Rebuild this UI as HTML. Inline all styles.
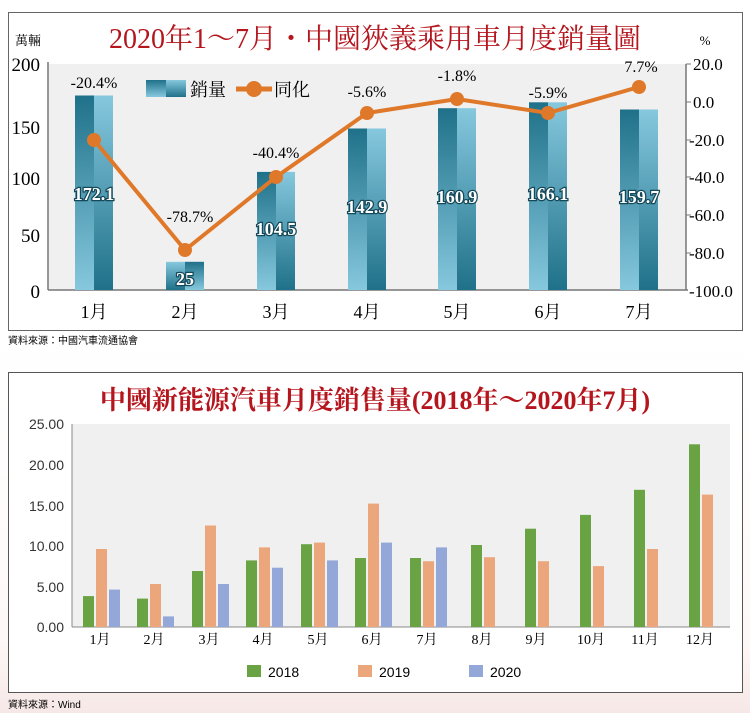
<!DOCTYPE html>
<html><head><meta charset="utf-8"><style>
body{margin:0;background:#fff;}
svg text{font-family:"Liberation Serif","Noto Serif CJK SC",serif;}
.s{font-family:"Liberation Sans","Noto Sans CJK TC",sans-serif !important;}
.v{paint-order:stroke;}
</style></head><body>
<svg width="750" height="713" viewBox="0 0 750 713" xmlns="http://www.w3.org/2000/svg">
<defs>
<linearGradient id="gA" x1="0" y1="0" x2="0" y2="1"><stop offset="0" stop-color="#1f7189"/><stop offset="1" stop-color="#86c8de"/></linearGradient>
<linearGradient id="gB" x1="0" y1="0" x2="0" y2="1"><stop offset="0" stop-color="#86c8de"/><stop offset="1" stop-color="#1f7189"/></linearGradient>
<linearGradient id="bg" x1="0" y1="0" x2="0" y2="1"><stop offset="0" stop-color="#ffffff"/><stop offset="0.8" stop-color="#fdf8f7"/><stop offset="1" stop-color="#f6e8e6"/></linearGradient>
</defs>
<rect x="0" y="340" width="750" height="373" fill="url(#bg)"/>
<!-- Top chart -->
<rect x="8.5" y="12.5" width="734" height="318" fill="#fff" stroke="#666"/>
<rect x="48" y="64" width="638" height="226" fill="#f0f0f0"/>
<text x="375" y="48" text-anchor="middle" font-size="28" fill="#b5161e">2020年1～7月・中國狹義乘用車月度銷量圖</text>
<text x="28" y="45" text-anchor="middle" font-size="13">萬輛</text>
<text x="705" y="45" text-anchor="middle" font-size="13">%</text>
<line x1="48" y1="62" x2="48" y2="290" stroke="#777" stroke-width="1.5"/>
<line x1="48" y1="290" x2="688" y2="290" stroke="#777" stroke-width="1.5"/>
<line x1="686" y1="64" x2="686" y2="290" stroke="#777" stroke-width="1.5"/>
<g font-size="19" text-anchor="end">
<text x="40" y="71">200</text><text x="40" y="134">150</text><text x="40" y="185">100</text><text x="40" y="242">50</text><text x="40" y="298">0</text>
</g>
<g font-size="17" text-anchor="start">
<text x="693" y="70">20.0</text><text x="693" y="108">0.0</text><text x="689" y="146">-20.0</text><text x="689" y="183">-40.0</text><text x="689" y="221">-60.0</text><text x="689" y="259">-80.0</text><text x="689" y="297">-100.0</text>
</g>
<g stroke="#777"><line x1="686" y1="64" x2="691" y2="64"/><line x1="686" y1="102" x2="691" y2="102"/><line x1="686" y1="140" x2="691" y2="140"/><line x1="686" y1="177" x2="691" y2="177"/><line x1="686" y1="215" x2="691" y2="215"/><line x1="686" y1="253" x2="691" y2="253"/></g>
<g>
<rect x="75" y="95.5" width="19" height="194.5" fill="url(#gA)"/><rect x="94" y="95.5" width="19" height="194.5" fill="url(#gB)"/>
<rect x="166" y="261.8" width="19" height="28.2" fill="url(#gB)"/><rect x="185" y="261.8" width="19" height="28.2" fill="url(#gA)"/>
<rect x="257" y="171.9" width="19" height="118.1" fill="url(#gA)"/><rect x="276" y="171.9" width="19" height="118.1" fill="url(#gB)"/>
<rect x="348" y="128.5" width="19" height="161.5" fill="url(#gA)"/><rect x="367" y="128.5" width="19" height="161.5" fill="url(#gB)"/>
<rect x="438" y="108.2" width="19" height="181.8" fill="url(#gA)"/><rect x="457" y="108.2" width="19" height="181.8" fill="url(#gB)"/>
<rect x="529" y="102.3" width="19" height="187.7" fill="url(#gA)"/><rect x="548" y="102.3" width="19" height="187.7" fill="url(#gB)"/>
<rect x="620" y="109.5" width="19" height="180.5" fill="url(#gA)"/><rect x="639" y="109.5" width="19" height="180.5" fill="url(#gB)"/>
</g>
<g font-size="18" font-weight="bold" fill="#fff" text-anchor="middle" stroke="#15495a" stroke-width="2.5" class="v">
<text class="v" x="94" y="200">172.1</text><text class="v" x="185" y="285">25</text><text class="v" x="276" y="235">104.5</text><text class="v" x="367" y="213">142.9</text><text class="v" x="457" y="203">160.9</text><text class="v" x="548" y="200">166.1</text><text class="v" x="639" y="203">159.7</text>
</g>
<rect x="146" y="80" width="20" height="17" fill="url(#gA)"/><rect x="166" y="80" width="20" height="17" fill="url(#gB)"/>
<text x="190" y="96" font-size="18">銷量</text>
<line x1="236" y1="89" x2="272" y2="89" stroke="#e0782a" stroke-width="5"/><circle cx="254" cy="89" r="8" fill="#e0782a"/>
<text x="274" y="96" font-size="18">同化</text>
<polyline points="94,140 185,250 276,177 367,113 457,99 548,113 639,87" fill="none" stroke="#e0782a" stroke-width="4"/>
<g fill="#e0782a"><circle cx="94" cy="140" r="7"/><circle cx="185" cy="250" r="7"/><circle cx="276" cy="177" r="7"/><circle cx="367" cy="113" r="7"/><circle cx="457" cy="99" r="7"/><circle cx="548" cy="113" r="7"/><circle cx="639" cy="87" r="7"/></g>
<g font-size="16" text-anchor="middle">
<text x="94" y="88">-20.4%</text><text x="190" y="222">-78.7%</text><text x="276" y="158">-40.4%</text><text x="367" y="97">-5.6%</text><text x="457" y="81">-1.8%</text><text x="548" y="98">-5.9%</text><text x="641" y="72">7.7%</text>
</g>
<g font-size="18" text-anchor="middle">
<text x="94" y="318">1月</text><text x="185" y="318">2月</text><text x="276" y="318">3月</text><text x="367" y="318">4月</text><text x="457" y="318">5月</text><text x="548" y="318">6月</text><text x="639" y="318">7月</text>
</g>
<text x="8" y="344" font-size="10" class="s">資料來源：中國汽車流通協會</text>
<!-- Bottom chart -->
<rect x="8.5" y="372.5" width="734" height="320" fill="#fff" stroke="#555"/>
<rect x="72" y="424" width="658" height="203" fill="#f0f0f0"/>
<text x="375" y="409" text-anchor="middle" font-size="26" font-weight="bold" fill="#b5161e">中國新能源汽車月度銷售量(2018年～2020年7月)</text>
<line x1="72" y1="424" x2="72" y2="627" stroke="#888"/>
<line x1="72" y1="627" x2="730" y2="627" stroke="#888"/>
<g font-size="14" text-anchor="end" fill="#333">
<text x="64" y="429" class="s">25.00</text><text x="64" y="470" class="s">20.00</text><text x="64" y="511" class="s">15.00</text><text x="64" y="551" class="s">10.00</text><text x="64" y="592" class="s">5.00</text><text x="64" y="632" class="s">0.00</text>
</g>
<g font-size="14" text-anchor="middle">
<text x="100" y="644">1月</text><text x="154" y="644">2月</text><text x="209" y="644">3月</text><text x="263" y="644">4月</text><text x="318" y="644">5月</text><text x="372" y="644">6月</text><text x="427" y="644">7月</text><text x="482" y="644">8月</text><text x="536" y="644">9月</text><text x="591" y="644">10月</text><text x="645" y="644">11月</text><text x="700" y="644">12月</text>
</g>
<rect x="247" y="665" width="14" height="12" fill="#6aa343"/><text x="268" y="677" font-size="14" class="s">2018</text>
<rect x="358" y="665" width="14" height="12" fill="#eba77b"/><text x="379" y="677" font-size="14" class="s">2019</text>
<rect x="469" y="665" width="14" height="12" fill="#93a8d8"/><text x="490" y="677" font-size="14" class="s">2020</text>
<text x="8" y="708" font-size="10" class="s">資料來源：Wind</text>
<g>
<rect x="83" y="596.1" width="11" height="30.9" fill="#6aa343"/><rect x="96" y="549.0" width="11" height="78.0" fill="#eba77b"/><rect x="109" y="589.6" width="11" height="37.4" fill="#93a8d8"/>
<rect x="137" y="598.6" width="11" height="28.4" fill="#6aa343"/><rect x="150" y="584.0" width="11" height="43.0" fill="#eba77b"/><rect x="163" y="616.4" width="11" height="10.6" fill="#93a8d8"/>
<rect x="192" y="571.0" width="11" height="56.0" fill="#6aa343"/><rect x="205" y="525.5" width="11" height="101.5" fill="#eba77b"/><rect x="218" y="584.0" width="11" height="43.0" fill="#93a8d8"/>
<rect x="246" y="560.4" width="11" height="66.6" fill="#6aa343"/><rect x="259" y="547.4" width="11" height="79.6" fill="#eba77b"/><rect x="272" y="567.7" width="11" height="59.3" fill="#93a8d8"/>
<rect x="301" y="544.2" width="11" height="82.8" fill="#6aa343"/><rect x="314" y="542.6" width="11" height="84.4" fill="#eba77b"/><rect x="327" y="560.4" width="11" height="66.6" fill="#93a8d8"/>
<rect x="355" y="558.0" width="11" height="69.0" fill="#6aa343"/><rect x="368" y="503.6" width="11" height="123.4" fill="#eba77b"/><rect x="381" y="542.6" width="11" height="84.4" fill="#93a8d8"/>
<rect x="410" y="558.0" width="11" height="69.0" fill="#6aa343"/><rect x="423" y="561.2" width="11" height="65.8" fill="#eba77b"/><rect x="436" y="547.4" width="11" height="79.6" fill="#93a8d8"/>
<rect x="471" y="545.0" width="11" height="82.0" fill="#6aa343"/><rect x="484" y="557.2" width="11" height="69.8" fill="#eba77b"/>
<rect x="525" y="528.7" width="11" height="98.3" fill="#6aa343"/><rect x="538" y="561.2" width="11" height="65.8" fill="#eba77b"/>
<rect x="580" y="514.9" width="11" height="112.1" fill="#6aa343"/><rect x="593" y="566.1" width="11" height="60.9" fill="#eba77b"/>
<rect x="634" y="489.8" width="11" height="137.2" fill="#6aa343"/><rect x="647" y="549.0" width="11" height="78.0" fill="#eba77b"/>
<rect x="689" y="444.3" width="11" height="182.7" fill="#6aa343"/><rect x="702" y="494.6" width="11" height="132.4" fill="#eba77b"/>
</g>
</svg>
</body></html>
